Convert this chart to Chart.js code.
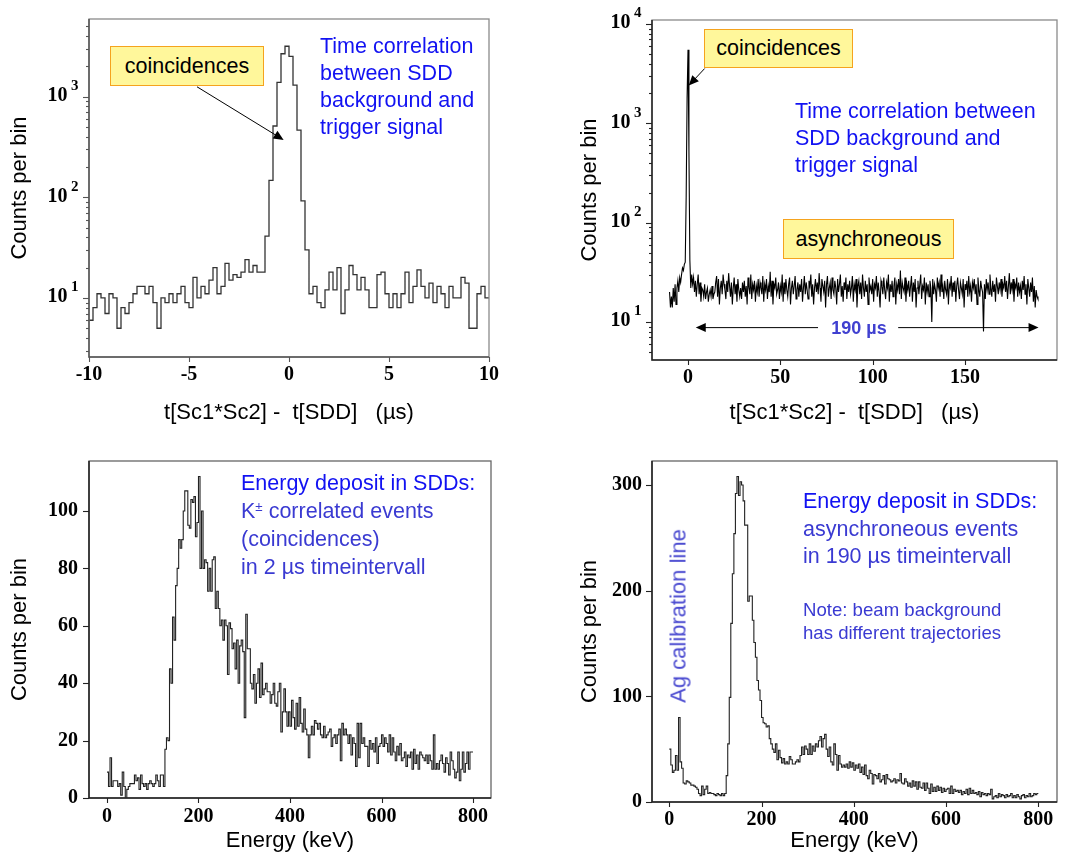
<!DOCTYPE html>
<html>
<head>
<meta charset="utf-8">
<script src="https://cdn.jsdelivr.net/npm/chart.js@4.4.1/dist/chart.umd.min.js"></script>
<style>
  body { margin: 0; background: #fff; }
  #page { position: relative; width: 1079px; height: 859px; overflow: hidden; }
  canvas { position: absolute; }
  .note { position: absolute; font-family: 'Liberation Sans', Arial, sans-serif; font-size: 21.5px; line-height: 27px; color: #3a3ad2; white-space: nowrap; }
  .blue { color: #1212f2; }
  .small { font-size: 18.6px; line-height: 23px; }
  .tag { position: absolute; box-sizing: border-box; background: #fff79b; border: 1.5px solid #f5a31e; font-family: 'Liberation Sans', Arial, sans-serif; font-size: 21.5px; color: #000; display: flex; align-items: center; justify-content: center; }
  .pm { font-size: 0.62em; vertical-align: 0.5em; line-height: 0; }
</style>
</head>
<body>
<div id="page">
  <canvas id="timeZoom" width="540" height="430" style="left:0;top:0"></canvas>
  <canvas id="timeFull" width="539" height="430" style="left:540px;top:0"></canvas>
  <canvas id="energyCoinc" width="540" height="429" style="left:0;top:430px"></canvas>
  <canvas id="energyAsync" width="539" height="429" style="left:540px;top:430px"></canvas>

  <div class="tag" style="left:110px;top:46px;width:154px;height:40px">coincidences</div>
  <div class="note blue" style="left:320px;top:33px">Time correlation<br>between SDD<br>background and<br>trigger signal</div>

  <div class="tag" style="left:704px;top:29px;width:149px;height:39px">coincidences</div>
  <div class="note blue" style="left:795px;top:98px">Time correlation between<br>SDD background and<br>trigger signal</div>
  <div class="tag" style="left:783px;top:219px;width:171px;height:40px">asynchroneous</div>
  <div style="position:absolute;left:819px;top:316px;width:80px;text-align:center;font:bold 18px 'Liberation Sans',Arial,sans-serif;line-height:24px;color:#4040d0">190 µs</div>

  <div class="note" style="left:241px;top:469px;line-height:28px"><span class="blue">Energy deposit in SDDs:</span><br>K<span class="pm">±</span> correlated events<br>(coincidences)<br>in 2 µs timeintervall</div>

  <div class="note" style="left:803px;top:488px;line-height:27.5px"><span class="blue">Energy deposit in SDDs:</span><br>asynchroneous events<br>in 190 µs timeintervall</div>
  <div class="note small" style="left:803px;top:598px">Note: beam background<br>has different trajectories</div>
  <div class="note" style="left:678px;top:616px;font-size:22px;color:#4a4ad0;transform:translate(-50%,-50%) rotate(-90deg)">Ag calibration line</div>
</div>
<script>
// time spectrum, zoom on the coincidence peak (bins of 0.2 us from -10 us)
const timeZoomStart = -10;
const timeZoomBin = 0.2;
const timeZoomCounts = [
  6, 8, 11, 10, 7, 11, 10, 5, 8, 7, 9, 11, 13, 13, 11, 13, 9, 5, 10, 9,
  11, 9, 11, 13, 9, 8, 16, 10, 13, 11, 15, 20, 11, 13, 22, 15, 17, 16, 18, 24,
  18, 21, 18, 18, 41, 147, 510, 1380, 2660, 3160, 2510, 1300, 464, 92, 30, 11,
  13, 9, 8, 12, 18, 12, 20, 7, 12, 21, 17, 12, 16, 12, 8, 8, 17, 18, 11, 8,
  11, 8, 11, 18, 9, 13, 19, 13, 10, 14, 9, 13, 11, 8, 13, 10, 10, 16, 14, 5,
  5, 11, 13, 10
];

// full 190 us window (bins of 0.5 us from -10 us)
const timeFullStart = -10;
const timeFullBin = 0.5;
const timeFullCounts = [
  20, 14, 18, 14, 22, 16, 24, 15, 22, 26, 20, 28, 25, 30, 35, 33, 38, 40, 180, 1800,
  5500, 525, 42, 22, 30, 24, 28, 20, 26, 18, 24, 30, 19, 25, 16, 22, 21, 18, 24, 17,
  20, 22, 16, 19, 21, 18, 23, 17, 19, 20, 25, 29, 18, 27, 15, 22, 26, 19, 30, 24,
  21, 17, 26, 20, 31, 23, 18, 25, 15, 22, 28, 19, 24, 16, 27, 21, 18, 22, 17, 25,
  20, 26, 18, 23, 15, 28, 22, 19, 30, 17, 24, 21, 26, 16, 23, 20, 27, 18, 25, 22,
  19, 29, 16, 24, 21, 27, 17, 23, 20, 32, 18, 26, 15, 24, 22, 28, 19, 21, 25, 17,
  23, 20, 30, 16, 25, 19, 27, 21, 18, 24, 28, 15, 22, 26, 19, 23, 29, 17, 21, 25,
  18, 24, 20, 27, 16, 22, 29, 19, 25, 21, 17, 26, 23, 30, 18, 24, 15, 22, 27, 20,
  25, 19, 31, 22, 16, 27, 23, 20, 26, 14, 24, 29, 18, 22, 25, 17, 28, 21, 19, 26,
  22, 15, 27, 20, 24, 30, 18, 23, 16, 25, 21, 28, 17, 24, 20, 26, 19, 22, 29, 16,
  24, 21, 27, 14, 23, 26, 19, 25, 17, 30, 22, 18, 26, 20, 24, 15, 28, 21, 23, 19,
  27, 16, 24, 22, 29, 18, 25, 20, 14, 26, 23, 19, 28, 21, 17, 25, 22, 30, 16, 24,
  20, 26, 18, 23, 28, 15, 24, 21, 27, 19, 33, 17, 25, 22, 20, 28, 16, 24, 21, 26,
  18, 23, 29, 16, 25, 20, 27, 14, 22, 26, 19, 24, 30, 17, 23, 21, 28, 15, 25, 20,
  24, 18, 26, 22, 10, 27, 19, 24, 21, 16, 28, 22, 25, 18, 30, 20, 23, 17, 26, 21,
  19, 27, 15, 24, 22, 29, 18, 25, 20, 26, 16, 23, 28, 21, 17, 25, 22, 19, 27, 14,
  24, 21, 26, 18, 29, 20, 23, 16, 25, 22, 27, 19, 24, 15, 28, 21, 18, 26, 22, 20,
  8, 24, 17, 27, 21, 25, 19, 30, 22, 18, 26, 20, 24, 16, 28, 23, 19, 25, 21, 27,
  18, 24, 22, 29, 20, 26, 17, 23, 31, 19, 25, 21, 27, 16, 24, 22, 28, 18, 25, 20,
  23, 17, 26, 21, 29, 19, 24, 15, 27, 22, 18, 25, 20, 28, 16, 23, 14, 21, 18, 17
];

// energy spectra, 0..800 keV, 3 bins per 10 keV
const energyStart = 0;
const energyEnd = 800;
const energyCoincCounts = [
  9, 4, 14, 4, 6, 6, 6, 4, 5, 1, 9, 4, 0, 3, 4, 5, 5, 5,
  8, 6, 7, 3, 8, 5, 4, 5, 3, 5, 6, 5, 4, 5, 8, 6, 4, 8,
  8, 4, 17, 21, 20, 45, 40, 63, 55, 74, 80, 90, 87, 90, 100, 107, 107, 95,
  94, 104, 103, 105, 91, 96, 112, 80, 100, 80, 83, 82, 72, 80, 72, 83, 84, 66,
  72, 66, 60, 62, 55, 62, 60, 43, 61, 59, 52, 54, 45, 55, 40, 53, 55, 51,
  28, 64, 52, 52, 40, 38, 43, 33, 40, 45, 35, 47, 36, 38, 40, 37, 37, 33,
  36, 40, 33, 32, 37, 40, 23, 30, 38, 30, 25, 30, 25, 34, 28, 24, 33, 25,
  35, 26, 23, 31, 24, 22, 14, 22, 25, 22, 27, 26, 24, 26, 22, 21, 25, 21,
  22, 23, 24, 18, 21, 22, 19, 22, 24, 13, 26, 22, 24, 22, 19, 22, 15, 21,
  19, 11, 26, 14, 26, 19, 21, 18, 18, 11, 20, 17, 19, 16, 21, 12, 18, 19,
  22, 18, 21, 19, 16, 22, 15, 21, 16, 13, 18, 15, 19, 13, 14, 16, 11, 15,
  14, 16, 10, 17, 12, 15, 10, 16, 15, 14, 13, 15, 12, 15, 13, 10, 22, 10,
  12, 10, 13, 15, 12, 9, 14, 12, 8, 16, 13, 10, 7, 9, 16, 6, 10, 16,
  9, 12, 16, 10, 16, 16
];
const energyAsyncCounts = [
  50, 35, 28, 30, 44, 30, 80, 38, 32, 18, 17, 20, 19, 18, 16, 16, 15, 14,
  12, 8, 6, 15, 7, 12, 15, 8, 9, 8, 8, 7, 6, 8, 7, 6, 8, 6,
  8, 25, 55, 99, 169, 216, 254, 292, 308, 290, 303, 300, 285, 262, 262, 190, 195, 195,
  172, 151, 137, 115, 106, 96, 80, 75, 74, 71, 72, 60, 55, 50, 47, 55, 40, 49,
  42, 37, 41, 36, 38, 36, 43, 40, 36, 36, 38, 40, 38, 44, 52, 45, 53, 50,
  45, 55, 45, 53, 48, 55, 52, 58, 62, 52, 60, 64, 50, 43, 52, 38, 35, 55,
  45, 30, 44, 36, 33, 35, 33, 36, 32, 38, 33, 37, 30, 35, 32, 36, 28, 33,
  26, 35, 25, 22, 30, 27, 17, 26, 25, 22, 27, 19, 21, 25, 17, 26, 22, 21,
  19, 20, 22, 18, 21, 20, 27, 18, 17, 22, 19, 15, 18, 14, 20, 15, 19, 12,
  19, 14, 13, 18, 11, 18, 13, 8, 17, 10, 14, 10, 15, 11, 14, 9, 13, 10,
  12, 13, 8, 15, 8, 12, 10, 11, 9, 11, 7, 10, 8, 12, 7, 13, 8, 11,
  8, 9, 7, 10, 5, 9, 7, 8, 6, 8, 7, 12, 3, 5, 6, 4, 8, 5,
  7, 6, 4, 7, 5, 6, 8, 4, 6, 4, 7, 5, 3, 6, 7, 4, 6, 5,
  8, 5, 6, 8, 7, 8
];

// axis ticks
const timeZoomXTicks = [-10, -5, 0, 5, 10];
const timeFullXTicks = [0, 50, 100, 150];
const energyXTicks = [0, 200, 400, 600, 800];
const coincYTicks = [0, 20, 40, 60, 80, 100];
const asyncYTicks = [0, 100, 200, 300];
const logMajor = [10, 100, 1000, 10000];
const logExponents = ['1', '2', '3', '4'];

// histogram edges -> step points (left edges plus closing right edge)
function stepPoints(start, width, counts) {
  const pts = counts.map((c, i) => ({ x: start + i * width, y: c }));
  pts.push({ x: start + counts.length * width, y: counts[counts.length - 1] });
  return pts;
}
function linePoints(start, width, counts) {
  return counts.map((c, i) => ({ x: start + i * width, y: c }));
}
function logTicks(min, max) {
  const out = [];
  for (let d = 1; d <= 10000; d *= 10) {
    for (let m = 1; m < 10; m++) {
      const v = m * d;
      if (v >= min && v <= max) out.push({ value: v, major: m === 1 });
    }
  }
  return out;
}

function drawArrow(ctx, x, y, from, to) {
  const x0 = x.getPixelForValue(from[0]), y0 = y.getPixelForValue(from[1]);
  const x1 = x.getPixelForValue(to[0]), y1 = y.getPixelForValue(to[1]);
  const ang = Math.atan2(y1 - y0, x1 - x0);
  const len = 10, half = 4.5;
  ctx.beginPath();
  ctx.moveTo(x0, y0);
  ctx.lineTo(x1 - Math.cos(ang) * len * 0.8, y1 - Math.sin(ang) * len * 0.8);
  ctx.stroke();
  ctx.beginPath();
  ctx.moveTo(x1, y1);
  ctx.lineTo(x1 - Math.cos(ang) * len - Math.sin(ang) * half, y1 - Math.sin(ang) * len + Math.cos(ang) * half);
  ctx.lineTo(x1 - Math.cos(ang) * len + Math.sin(ang) * half, y1 - Math.sin(ang) * len - Math.cos(ang) * half);
  ctx.closePath();
  ctx.fill();
}

// box around the plot, outward tick marks, 10^n labels, annotation arrows
const framePlugin = {
  id: 'frame',
  afterDatasetsDraw(chart, args, opts) {
    const { ctx, chartArea: a, scales: { x, y } } = chart;
    ctx.save();
    ctx.lineWidth = 1.3;
    ctx.strokeStyle = opts.boxColor;
    ctx.strokeRect(a.left, a.top, a.right - a.left, a.bottom - a.top);
    ctx.strokeStyle = opts.axisColor;
    ctx.lineWidth = 1.5;
    ctx.beginPath();
    ctx.moveTo(a.left, a.top);
    ctx.lineTo(a.left, a.bottom);
    ctx.lineTo(a.right, a.bottom);
    ctx.stroke();
    ctx.lineWidth = 1.1;
    x.ticks.forEach(t => {
      const px = Math.round(x.getPixelForValue(t.value)) + 0.5;
      ctx.beginPath();
      ctx.moveTo(px, a.bottom);
      ctx.lineTo(px, a.bottom + 5);
      ctx.stroke();
    });
    y.ticks.forEach(t => {
      const py = Math.round(y.getPixelForValue(t.value)) + 0.5;
      const len = t.major ? 6 : 3;
      ctx.beginPath();
      ctx.moveTo(a.left, py);
      ctx.lineTo(a.left - len, py);
      ctx.stroke();
    });
    if (opts.logLabels) {
      ctx.fillStyle = '#000';
      ctx.textAlign = 'right';
      ctx.textBaseline = 'alphabetic';
      const right = a.left - 10.5;
      y.ticks.forEach(t => {
        const k = logMajor.indexOf(t.value);
        if (k < 0) return;
        const py = y.getPixelForValue(t.value);
        ctx.font = "bold 15px 'Liberation Serif', serif";
        ctx.fillText(logExponents[k], right, py - 6.5);
        const w = ctx.measureText(logExponents[k]).width;
        ctx.font = "bold 20px 'Liberation Serif', serif";
        ctx.fillText('10', right - w - 3.5, py + 4.5);
      });
    }
    ctx.strokeStyle = '#000';
    ctx.fillStyle = '#000';
    ctx.lineWidth = 1;
    (opts.arrows || []).forEach(ar => drawArrow(ctx, x, y, ar.from, ar.to));
    ctx.restore();
  }
};

const tickFont = { family: "'Liberation Serif', 'Times New Roman', serif", size: 20, weight: 'bold' };
const titleFont = { family: "'Liberation Sans', Arial, sans-serif", size: 22 };

function makePanel(id, o) {
  return new Chart(document.getElementById(id), {
    type: 'line',
    data: {
      datasets: [{
        data: o.points,
        stepped: o.stepped,
        borderColor: o.lineColor,
        borderWidth: o.lineWidth,
        pointRadius: 0,
        fill: false,
        tension: 0
      }]
    },
    options: {
      responsive: false,
      animation: false,
      events: [],
      layout: { padding: o.padding },
      plugins: {
        legend: { display: false },
        tooltip: { enabled: false },
        frame: { boxColor: o.boxColor, axisColor: o.axisColor, arrows: o.arrows, logLabels: o.logY }
      },
      scales: {
        x: {
          type: 'linear',
          min: o.xMin,
          max: o.xMax,
          afterBuildTicks: s => { s.ticks = o.xTicks.map(v => ({ value: v, major: true })); },
          afterFit: s => { s.height = o.xHeight; },
          grid: { display: true, drawOnChartArea: false, drawTicks: true, tickLength: 5, tickColor: 'rgba(0,0,0,0)' },
          border: { display: false },
          ticks: { font: tickFont, color: '#000', padding: o.xTickPad, autoSkip: false, maxRotation: 0, callback: v => String(v) },
          title: { display: true, text: o.xTitle, font: titleFont, color: '#000', padding: { top: 0, bottom: o.xTitlePad } }
        },
        y: {
          type: o.logY ? 'logarithmic' : 'linear',
          min: o.yMin,
          max: o.yMax,
          afterBuildTicks: s => {
            s.ticks = o.logY ? logTicks(o.yMin, o.yMax) : o.yTicks.map(v => ({ value: v, major: true }));
          },
          afterFit: s => { s.width = o.yWidth; },
          grid: { display: true, drawOnChartArea: false, drawTicks: true, tickLength: 5, tickColor: 'rgba(0,0,0,0)' },
          border: { display: false },
          ticks: {
            font: tickFont, color: '#000', padding: o.yTickPad, autoSkip: false,
            // log labels are drawn by the frame plugin as 10 with a raised exponent
            callback: v => (o.logY ? '' : String(v))
          },
          title: { display: true, text: 'Counts per bin', font: titleFont, color: '#000', padding: { top: o.yTitlePad, bottom: 0 } }
        }
      }
    },
    plugins: [framePlugin]
  });
}

const timeTitle = 't[Sc1*Sc2] -  t[SDD]   (µs)';

makePanel('timeZoom', {
  points: stepPoints(timeZoomStart, timeZoomBin, timeZoomCounts),
  stepped: true, lineColor: '#333', lineWidth: 1.3,
  padding: { left: 0, top: 19, right: 51, bottom: 0 },
  xMin: -10, xMax: 10, xTicks: timeZoomXTicks, xHeight: 73, xTickPad: 1, xTitlePad: 4, xTitle: timeTitle,
  logY: true, yMin: 2.59, yMax: 5890, yWidth: 89, yTickPad: 5, yTitlePad: 7,
  boxColor: '#8a8a8a', axisColor: '#555',
  arrows: [{ from: [-4.6, 1250], to: [-0.27, 371] }]
});

makePanel('timeFull', {
  points: linePoints(timeFullStart, timeFullBin, timeFullCounts),
  stepped: false, lineColor: '#000', lineWidth: 1.1,
  padding: { left: 0, top: 20, right: 22, bottom: 0 },
  xMin: -19.5, xMax: 199.8, xTicks: timeFullXTicks, xHeight: 70, xTickPad: 1, xTitlePad: 4, xTitle: timeTitle,
  logY: true, yMin: 4.14, yMax: 10970, yWidth: 112, yTickPad: 5, yTitlePad: 37,
  boxColor: '#8a8a8a', axisColor: '#222',
  arrows: [
    { from: [9.0, 3560], to: [0.4, 2400] },
    { from: [70.4, 8.77], to: [4.2, 8.77] },
    { from: [113.8, 8.77], to: [189.8, 8.77] }
  ]
});

makePanel('energyCoinc', {
  points: stepPoints(energyStart, (energyEnd - energyStart) / energyCoincCounts.length, energyCoincCounts),
  stepped: true, lineColor: '#222', lineWidth: 1.1,
  padding: { left: 0, top: 31, right: 49, bottom: 0 },
  xMin: -39.3, xMax: 839.3, xTicks: energyXTicks, xHeight: 61, xTickPad: 2, xTitlePad: 5, xTitle: 'Energy (keV)',
  logY: false, yMin: 0, yMax: 117.4, yTicks: coincYTicks, yWidth: 89, yTickPad: 6, yTitlePad: 7,
  boxColor: '#666', axisColor: '#222'
});

makePanel('energyAsync', {
  points: stepPoints(energyStart, (energyEnd - energyStart) / energyAsyncCounts.length, energyAsyncCounts),
  stepped: true, lineColor: '#222', lineWidth: 1.1,
  padding: { left: 0, top: 31, right: 22, bottom: 0 },
  xMin: -37.5, xMax: 840.5, xTicks: energyXTicks, xHeight: 57, xTickPad: 1, xTitlePad: 5, xTitle: 'Energy (keV)',
  logY: false, yMin: 0, yMax: 322.7, yTicks: asyncYTicks, yWidth: 112, yTickPad: 5, yTitlePad: 37,
  boxColor: '#666', axisColor: '#222'
});
</script>
</body>
</html>
